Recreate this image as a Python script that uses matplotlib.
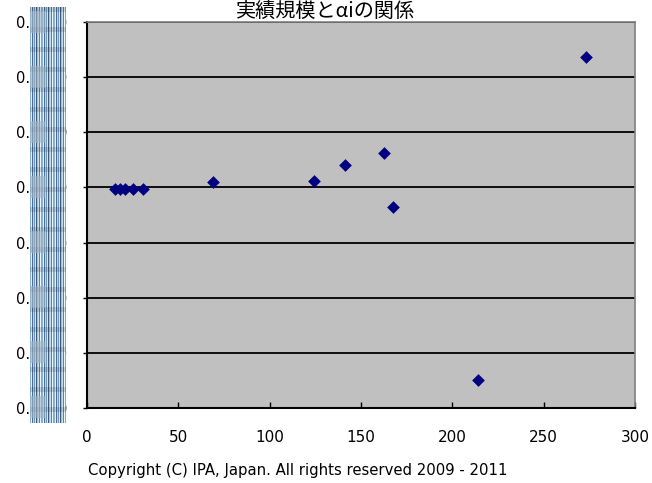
import numpy as np
import matplotlib
matplotlib.use('Agg')
import matplotlib.pyplot as plt
from matplotlib.colors import to_rgb

plt.rcParams['font.family'] = ['DejaVu Sans', 'Noto Sans CJK JP']

# 実績規模 (x) と αi (y)
scale = [15.4, 18.1, 20.8, 25.2, 30.7, 69.1, 124.0, 141.5, 162.4, 167.3, 214.0, 273.2]
alpha_i = [0.99598, 0.99598, 0.99598, 0.99598, 0.99598, 0.99609, 0.99611,
           0.99640, 0.99662, 0.99565, 0.99251, 0.99836]

x_ticks = [0, 50, 100, 150, 200, 250, 300]
y_ticks = [0.992, 0.993, 0.994, 0.995, 0.996, 0.997, 0.998, 0.999]

title = '実績規模とαiの関係'
copyright_text = 'Copyright (C) IPA, Japan. All rights reserved 2009 - 2011'

# striped band laid over the y tick values
stripe_cols = ['#8ab4d2', '#e2eff6', '#4f6c92', '#b4d4e8', '#7098b8', '#d4e6f0',
               '#3f5a80', '#9cc4dc', '#c8e0ee', '#62809e', '#eef6fa', '#84aac6']

W, H = 652, 483
fig = plt.figure(figsize=(W / 100, H / 100), dpi=100)
ax = fig.add_axes([87 / W, 1 - 408 / H, (635 - 87) / W, (408 - 22) / H])
ax.set_facecolor('#c0c0c0')

ax.scatter(scale, alpha_i, marker='D', s=42, color='#000080', zorder=3, linewidths=0)

ax.set_xlim(x_ticks[0], x_ticks[-1])
ax.set_ylim(y_ticks[0], y_ticks[-1])
ax.set_xticks(x_ticks)
ax.set_yticks(y_ticks)
ax.set_yticklabels(['{:.4f}'.format(v) for v in y_ticks])
ax.yaxis.grid(True, color='black', linewidth=1.3)
ax.set_axisbelow(True)

ax.tick_params(axis='x', direction='in', length=4, width=1, labelsize=11, pad=16)
ax.tick_params(axis='y', direction='out', length=3, width=1, labelsize=10.5, pad=11)

for side in ['left', 'bottom']:
  ax.spines[side].set_color('black')
  ax.spines[side].set_linewidth(1.5)
for side in ['top', 'right']:
  ax.spines[side].set_color('#808080')
  ax.spines[side].set_linewidth(1.2)

fig.text(0.5, 1 - 11 / H, title, ha='center', va='center', fontsize=14.5,
         family=['Noto Sans CJK JP'])
fig.text(88 / W, 1 - 470 / H, copyright_text, ha='left', va='center', fontsize=10.7)

# vertical stripe pattern
n_w, n_h = 36, 416
rgb = np.array([to_rgb(c) for c in stripe_cols])
band = rgb[np.arange(n_w) % len(stripe_cols)][None, :, :].repeat(n_h, axis=0)
rows = np.arange(n_h)
shade = np.where((rows // 5) % 4 == 0, 0.88, 1.0)
band = np.clip(band * shade[:, None, None], 0, 1)
for ty in range(8):
  r0 = int(ty * 55 + 4)
  band[r0:r0 + 22, :15, :] = 0.4 * band[r0:r0 + 22, :15, :] + 0.6 * np.array(to_rgb('#a0b4c4'))
mask_ax = fig.add_axes([30 / W, 1 - 423 / H, 36 / W, 416 / H])
mask_ax.imshow(band, aspect='auto', interpolation='nearest')
mask_ax.axis('off')

fig.savefig('out.png', dpi=100)
